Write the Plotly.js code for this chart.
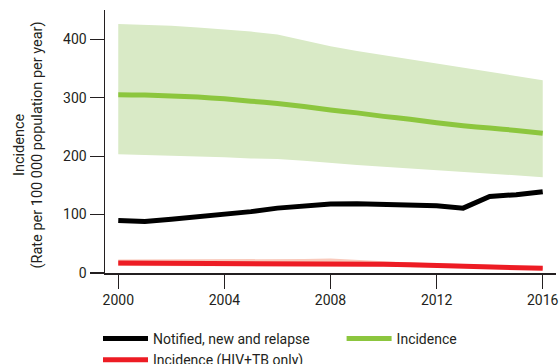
<!DOCTYPE html>
<html>
<head>
<meta charset="utf-8">
<script src="https://cdn.plot.ly/plotly-3.0.1.min.js"></script>
<style>html,body{margin:0;padding:0;background:#fff}#chart{width:560px;height:364px}</style>
</head>
<body>
<div id="chart"></div>
<script>
const years = [2000,2001,2002,2003,2004,2005,2006,2007,2008,2009,2010,2011,2012,2013,2014,2015,2016];
const notified = [90,88,92,96,101,105,111,115,118,118.5,117,117,115,111,131,134,139];
const incidence = [305,304.5,303,301,298,294,290,285,279,274,268,263,257,252,248,244,239];
const incidenceHi = [426,425,423,420,417,413,408,398,388,380,373,366,359,352,345,338,330];
const incidenceLo = [203,202,201,200,198,196,195,192,188,185,182,179,177,174,171,168,164];
const hivtb = [17,17,17,17,17,17,17,17,17,16,15,14,13,12,11,10,8];
const hivtbHi = [23,23,23,23,23,23,23,24,25,22,20,18,17,15,14,12,10];
const hivtbLo = [12,12,12,12,12,12,12,12,12,11,11,10,10,9,8,7,6];
const xTicks = [2000,2004,2008,2012,2016];
const yTicks = [0,100,200,300,400];
const yTitle = 'Incidence<br>(Rate per 100 000 population per year)';

const FONT = 'Roboto, "Open Sans", sans-serif';
const TXT = '#231f20';
const traces = [
  {x: years, y: incidenceLo, mode:'lines', line:{width:0, color:'rgba(0,0,0,0)'}, showlegend:false, hoverinfo:'skip'},
  {x: years, y: incidenceHi, mode:'lines', line:{width:0, color:'rgba(0,0,0,0)'}, fill:'tonexty', fillcolor:'#d9eac6', showlegend:false, hoverinfo:'skip'},
  {x: years, y: hivtbLo, mode:'lines', line:{width:0, color:'rgba(0,0,0,0)'}, showlegend:false, hoverinfo:'skip'},
  {x: years, y: hivtbHi, mode:'lines', line:{width:0, color:'rgba(0,0,0,0)'}, fill:'tonexty', fillcolor:'#f9c9bb', showlegend:false, hoverinfo:'skip'},
  {x: years, y: notified, mode:'lines', name:'Notified, new and relapse', legend:'legend', line:{color:'#000000', width:5}},
  {x: years, y: incidence, mode:'lines', name:'Incidence', legend:'legend2', line:{color:'#8cc63e', width:5, shape:'spline', smoothing:0.6}},
  {x: years, y: hivtb, mode:'lines', name:'Incidence (HIV+TB only)', legend:'legend', line:{color:'#ed1c24', width:5}}
];
const legendBase = {orientation:'v', xref:'container', yref:'container', xanchor:'left', y:0.113, yanchor:'top',
          itemwidth:45, traceorder:'normal', font:{family:FONT, size:14, color:TXT},
          tracegroupgap:0, bgcolor:'rgba(0,0,0,0)', borderwidth:0};
const layout = {
  width:560, height:364,
  margin:{l:105, r:4, t:10, b:91, autoexpand:false},
  paper_bgcolor:'#fff', plot_bgcolor:'#fff',
  font:{family:FONT, size:14, color:TXT},
  showlegend:true,
  legend: Object.assign({}, legendBase, {x:0.175}),
  legend2: Object.assign({}, legendBase, {x:0.61}),
  xaxis:{range:[1999.5,2016.5], tickvals:xTicks, ticktext:xTicks.map(String), ticks:'outside', ticklen:14, tickwidth:1.2, tickcolor:TXT,
         ticklabeloverflow:'allow', automargin:false,
         showline:true, linecolor:TXT, linewidth:1.5, showgrid:false, zeroline:false, fixedrange:true},
  yaxis:{range:[0,450], tickvals:yTicks, ticks:'outside', ticklen:14, tickwidth:1.2, tickcolor:TXT, automargin:false,
         showline:true, linecolor:TXT, linewidth:1.5, showgrid:false, zeroline:false, fixedrange:true},
  annotations:[{text:yTitle, xref:'paper', yref:'paper', x:-0.1696, y:0.487, xanchor:'center', yanchor:'middle',
                textangle:-90, showarrow:false, font:{family:FONT, size:14.5, color:TXT}}]
};
Plotly.newPlot('chart', traces, layout, {staticPlot:true, displayModeBar:false});
</script>
</body>
</html>
